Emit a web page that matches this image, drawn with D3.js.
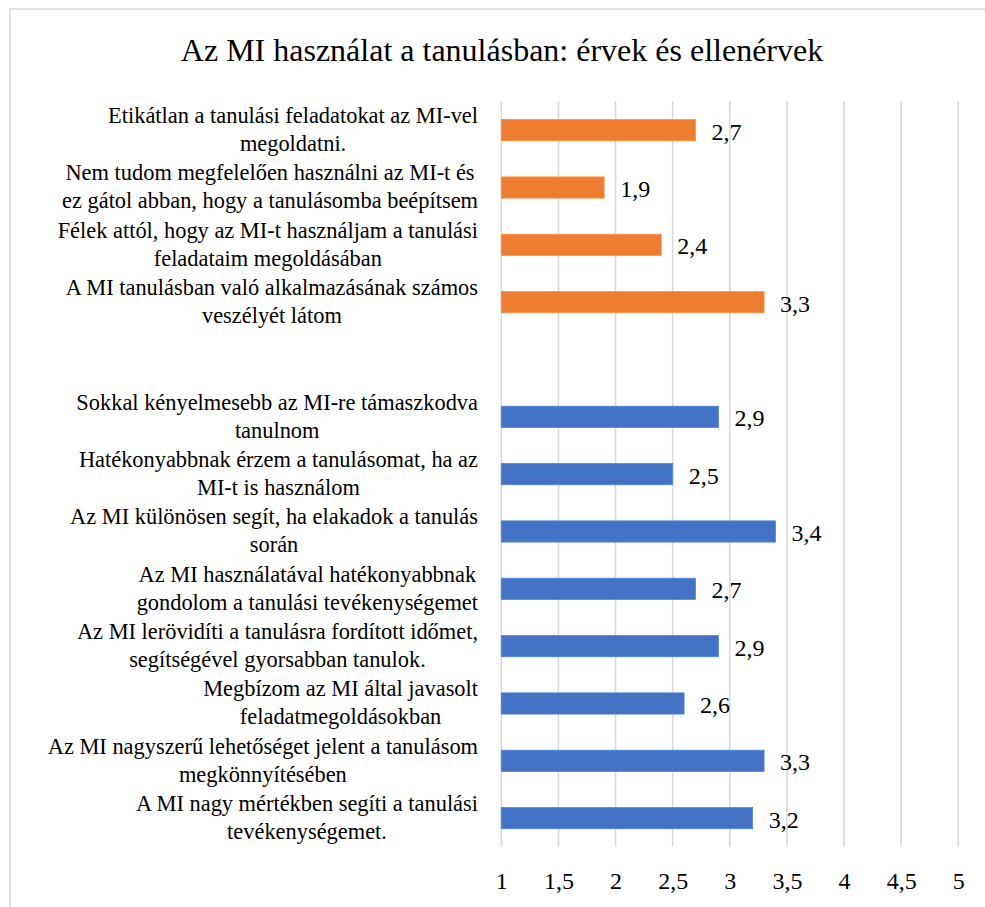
<!DOCTYPE html>
<html>
<head>
<meta charset="utf-8">
<script src="https://cdn.jsdelivr.net/npm/d3@7"></script>
<style>
html,body{margin:0;padding:0;background:#fff;}
svg{display:block;}
text{font-family:"Liberation Serif","DejaVu Serif",serif;fill:#000;}
</style>
</head>
<body>
<svg id="chart" width="985" height="907"></svg>
<script>
const title = "Az MI használat a tanulásban: érvek és ellenérvek";
// category labels (top to bottom), each split into its wrapped lines
const categories = [
  ["Etikátlan a tanulási feladatokat az MI-vel", "megoldatni."],
  ["Nem tudom megfelelően használni az MI-t és", "ez gátol abban, hogy a tanulásomba beépítsem"],
  ["Félek attól, hogy az MI-t használjam a tanulási", "feladataim megoldásában"],
  ["A MI tanulásban való alkalmazásának számos", "veszélyét látom"],
  [],
  ["Sokkal kényelmesebb az MI-re támaszkodva", "tanulnom"],
  ["Hatékonyabbnak érzem a tanulásomat, ha az", "MI-t is használom"],
  ["Az MI különösen segít, ha elakadok a tanulás", "során"],
  ["Az MI használatával hatékonyabbnak", "gondolom a tanulási tevékenységemet"],
  ["Az MI lerövidíti a tanulásra fordított időmet,", "segítségével gyorsabban tanulok."],
  ["Megbízom az MI által javasolt", "feladatmegoldásokban"],
  ["Az MI nagyszerű lehetőséget jelent a tanulásom", "megkönnyítésében"],
  ["A MI nagy mértékben segíti  a tanulási", "tevékenységemet."]
];
const values = [2.7, 1.9, 2.4, 3.3, null, 2.9, 2.5, 3.4, 2.7, 2.9, 2.6, 3.3, 3.2];
const groups = ["ellen","ellen","ellen","ellen", null, "mellett","mellett","mellett","mellett","mellett","mellett","mellett","mellett"];
const colors = {ellen: "#ED7D31", mellett: "#4472C4"};
const tickValues = [1, 1.5, 2, 2.5, 3, 3.5, 4, 4.5, 5];
const xDomain = [1, 5];

const svg = d3.select("#chart");
const fmt = v => String(v).replace(".", ",");

// outer chart border
svg.append("rect").attr("x", 10).attr("y", 9).attr("width", 990).attr("height", 920)
  .attr("fill", "none").attr("stroke", "#d9d9d9").attr("stroke-width", 1.5);

const x = d3.scaleLinear().domain(xDomain).range([501.3, 958.3]);
const idx = d3.range(categories.length);
const y = d3.scaleBand().domain(idx).range([101.5, 846.8]).paddingInner(0.63).paddingOuter(0.315);

// title
svg.append("text").attr("x", 502).attr("y", 61).attr("text-anchor", "middle")
  .style("font-size", "32px").text(title);

// gridlines
svg.append("g").selectAll("line").data(tickValues).join("line")
  .attr("x1", d => x(d)).attr("x2", d => x(d))
  .attr("y1", 101.5).attr("y2", 846.8)
  .attr("stroke", "#d9d9d9").attr("stroke-width", 1.6);

// axis tick labels
const axis = d3.axisBottom(x).tickValues(tickValues).tickSize(0).tickPadding(0).tickFormat(fmt);
const gAxis = svg.append("g").attr("transform", "translate(0,889)").call(axis);
gAxis.select(".domain").remove();
gAxis.selectAll("text").attr("dy", 0).attr("y", 0)
  .style("font-family", '"Liberation Serif","DejaVu Serif",serif').style("font-size", "24px").attr("fill", "#000");

// bars
const data = idx.filter(i => values[i] != null);
svg.append("g").selectAll("rect").data(data).join("rect")
  .attr("x", x(xDomain[0]))
  .attr("y", i => y(i))
  .attr("width", i => x(values[i]) - x(xDomain[0]))
  .attr("height", y.bandwidth())
  .attr("fill", i => colors[groups[i]])
  .attr("stroke", i => d3.color(colors[groups[i]]).brighter(0.4))
  .attr("stroke-width", 0.8);

// data labels
svg.append("g").selectAll("text").data(data).join("text")
  .attr("x", i => x(values[i]) + 16)
  .attr("y", i => y(i) + y.bandwidth() / 2 + 9.5)
  .style("font-size", "24px")
  .text(i => fmt(values[i]));

// category labels: block right aligned at 478, lines centered within block
const labelRight = 478;
const lineH = 28;
const gLab = svg.append("g");
idx.forEach(i => {
  const lines = categories[i];
  if (!lines.length) return;
  const cy = y(i) + y.bandwidth() / 2;
  const t = gLab.append("text").style("font-size", "22.4px").attr("text-anchor", "middle");
  const spans = lines.map((ln, k) => t.append("tspan")
    .attr("y", cy + (k - (lines.length - 1) / 2) * lineH + 7).text(ln));
  const w = d3.max(spans, s => s.node().getComputedTextLength());
  spans.forEach(s => s.attr("x", labelRight - w / 2));
});
</script>
</body>
</html>
